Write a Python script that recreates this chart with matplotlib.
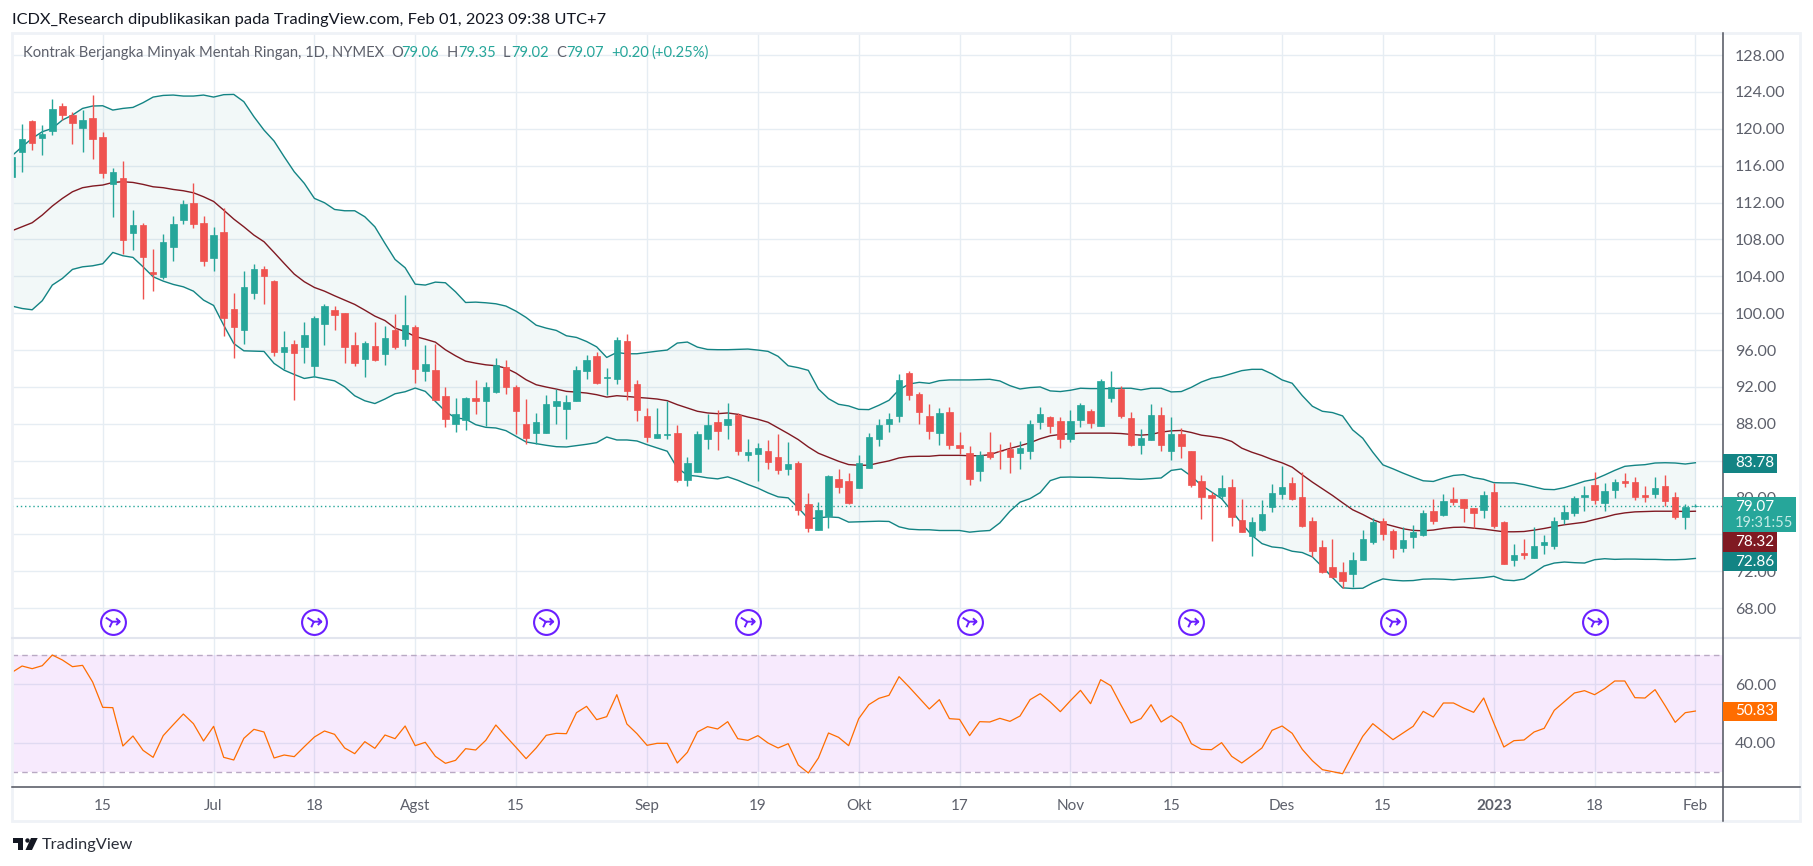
import matplotlib
matplotlib.use('Agg')
import matplotlib.pyplot as plt
from matplotlib.lines import Line2D
from matplotlib.patches import Rectangle, Polygon
from matplotlib.path import Path

W = 1813
H = 866

opens = [114.8,117.5,120.8,119.0,119.8,122.5,121.45,120.1,121.15,119.1,
114.05,114.7,108.7,109.55,104.45,103.9,107.2,110.15,111.95,109.75,
106.0,108.8,100.45,98.2,102.2,104.8,103.5,95.8,96.65,96.35,
94.3,98.85,100.35,100.0,96.55,95.05,96.45,95.6,98.2,97.2,
98.5,93.75,93.85,91.05,88.0,88.45,90.85,90.5,91.5,94.2,
92.0,88.0,87.05,87.05,89.95,89.65,90.5,93.75,95.4,93.0,
92.9,97.0,92.35,88.9,86.5,86.8,87.05,81.95,82.8,86.3,
88.25,87.9,89.0,84.65,84.75,85.1,84.35,83.05,83.7,79.35,
76.45,78.05,82.05,81.85,81.0,83.25,86.4,88.0,88.9,93.55,
91.25,88.8,87.05,89.3,85.65,84.8,82.85,84.9,85.1,85.25,
84.8,85.0,88.15,88.7,88.35,86.3,88.45,89.35,87.8,90.85,
91.8,88.6,85.75,86.2,89.0,85.1,86.95,85.0,81.85,80.25,
80.15,81.1,77.55,75.8,76.45,78.95,80.35,81.55,80.05,77.45,
74.6,72.45,71.9,71.7,73.2,75.15,77.45,76.35,74.5,75.7,
75.9,78.5,78.1,79.9,79.9,78.85,78.65,80.6,77.35,73.25,
74.0,73.45,74.85,74.75,77.65,78.3,80.05,81.35,79.4,80.8,
81.85,81.65,80.25,80.35,81.25,80.05,77.85,79.06]

highs = [117.0,120.5,121.0,120.4,123.2,122.8,121.85,122.0,123.7,119.6,
115.7,116.55,111.2,109.75,107.0,108.6,110.55,112.25,114.1,110.55,
109.35,111.45,102.2,104.55,105.3,105.1,103.6,98.05,97.1,99.05,
99.7,101.0,100.75,100.0,97.95,96.95,99.05,98.65,99.95,102.0,
98.75,96.55,96.7,92.0,90.85,90.95,92.8,92.55,95.15,94.95,
92.25,90.7,89.2,91.15,91.8,91.15,94.3,95.5,95.8,94.1,
97.45,97.75,92.8,89.75,89.75,90.5,87.9,84.35,87.25,89.1,
89.45,90.3,89.2,86.3,85.95,86.2,86.85,86.05,84.0,80.45,
79.55,82.5,83.05,82.7,84.65,87.05,88.55,89.2,93.45,93.75,
91.5,90.2,89.75,89.85,87.15,85.55,85.0,87.15,85.85,86.0,
86.1,88.45,89.85,88.8,88.7,89.45,90.3,89.65,92.9,93.75,
92.15,89.25,87.4,90.1,89.85,88.7,87.5,85.0,82.4,80.6,
82.4,82.0,79.9,77.85,79.7,81.45,83.4,82.2,82.75,77.85,
75.35,75.5,73.0,74.05,76.45,77.75,77.75,76.55,76.8,77.0,
78.6,79.9,80.35,81.2,79.9,78.85,80.7,81.55,77.45,74.95,
75.5,76.8,75.95,77.85,79.15,80.15,81.25,82.75,81.55,82.0,
82.65,82.2,81.25,82.2,82.5,80.6,79.3,79.35]

lows = [114.8,115.3,117.7,117.15,119.3,120.9,118.4,117.5,116.75,114.7,
110.45,106.4,106.9,101.55,102.45,103.7,105.7,109.7,109.25,105.15,
104.6,97.55,95.15,96.7,101.55,101.0,95.4,93.9,90.6,94.6,
93.1,96.55,98.2,94.6,94.3,93.1,94.85,94.4,96.15,96.45,
92.45,92.65,90.6,87.7,87.15,87.35,89.1,87.8,91.35,91.25,
86.95,85.85,85.85,87.05,88.0,86.4,90.5,92.9,92.35,91.15,
92.35,90.6,88.35,86.05,86.5,86.3,81.65,81.3,82.8,85.3,
85.2,86.3,84.65,84.0,81.85,83.15,82.6,82.5,78.15,76.3,
76.45,76.65,80.45,79.25,81.0,83.25,85.55,87.15,88.15,90.6,
88.0,86.4,85.65,85.3,84.7,81.35,81.75,84.15,83.15,82.65,
83.05,84.15,87.4,87.05,85.35,86.0,87.7,87.6,87.8,90.4,
88.6,85.55,84.7,86.2,85.1,84.05,84.25,81.2,77.65,75.3,
79.8,76.9,76.25,73.65,76.35,78.4,79.9,79.7,76.8,73.55,
71.8,71.25,70.15,70.3,73.2,74.95,75.35,73.4,74.05,74.5,
75.8,77.1,77.95,79.15,77.3,76.7,77.75,76.7,72.8,72.6,
73.35,73.45,73.85,74.4,77.1,78.0,78.5,79.3,78.5,79.95,
81.1,79.7,79.5,79.95,79.05,77.65,76.6,79.02]

closes = [116.9,118.85,118.5,119.4,122.1,121.5,120.65,120.95,118.9,115.2,
115.3,107.95,109.55,106.1,104.3,107.7,109.65,111.85,109.7,105.7,
108.45,99.5,98.5,102.85,104.8,104.05,95.8,96.3,95.7,97.6,
99.45,100.75,99.8,96.35,94.6,96.75,94.95,97.35,96.35,98.75,
93.9,94.5,90.6,88.55,89.1,90.85,90.5,92.0,94.4,92.0,
89.4,86.5,88.25,90.2,90.5,90.4,93.85,94.95,92.45,93.1,
97.1,91.6,89.55,86.6,86.95,86.95,81.95,83.7,86.95,87.9,
87.25,88.55,85.1,84.9,85.4,83.9,82.95,83.6,78.7,76.75,
78.6,82.3,81.2,79.45,83.7,86.6,87.9,88.55,92.8,91.15,
89.3,87.25,89.2,85.65,85.35,82.0,84.6,84.45,85.0,84.45,
85.35,87.95,89.1,87.8,86.4,88.35,90.0,88.05,92.6,91.95,
88.8,85.75,86.5,89.0,85.75,86.95,85.55,81.35,80.05,79.95,
81.0,77.85,76.25,77.3,78.2,80.55,81.2,79.9,76.9,74.2,
71.9,71.35,70.95,73.2,75.5,77.3,76.0,74.4,75.35,76.25,
78.3,77.45,79.6,79.5,78.85,78.3,80.25,76.9,72.8,73.75,
73.75,74.75,75.15,77.45,78.4,79.95,80.25,79.7,80.7,81.65,
81.55,80.05,80.05,81.0,79.6,77.85,78.95,79.07]

bb_upper = [117.08,118.05,118.96,119.68,120.04,120.95,121.49,122.21,122.47,122.5,
122.03,122.21,122.32,122.83,123.44,123.62,123.66,123.55,123.55,123.66,
123.44,123.7,123.73,122.94,121.31,119.86,118.67,116.97,115.34,114.08,
112.45,111.98,111.25,111.11,111.11,110.46,109.37,107.57,105.83,104.93,
103.15,103.05,103.37,103.3,102.32,101.16,101.2,101.13,101.02,100.77,
100.22,99.54,98.7,98.38,98.13,97.55,97.37,96.93,96.35,95.2,
95.74,95.6,95.6,95.74,95.88,96.0,96.76,96.87,96.32,96.07,
96.04,96.04,96.07,96.11,96.0,95.86,95.32,94.3,94.09,93.8,
91.78,90.73,90.12,89.94,89.57,89.54,90.01,90.55,91.7,92.32,
92.5,92.39,92.68,92.76,92.76,92.76,92.79,92.83,92.65,92.14,
91.78,91.93,92.0,91.57,91.5,91.64,91.86,91.82,91.82,91.82,
91.86,91.86,91.68,91.86,91.86,91.46,91.5,91.96,92.54,92.94,
93.12,93.44,93.77,93.91,93.91,93.41,92.76,92.4,91.06,89.91,
89.36,89.22,88.86,87.34,86.44,84.92,83.55,83.12,82.65,82.22,
81.82,81.75,82.11,82.4,82.49,82.16,81.98,81.62,81.59,81.59,
81.41,81.15,80.9,80.86,81.08,81.41,81.77,81.98,82.45,82.95,
83.39,83.5,83.57,83.75,83.78,83.75,83.64,83.78]

bb_basis = [108.94,109.37,109.81,110.64,111.62,112.45,113.17,113.61,113.79,113.9,
114.18,114.26,114.18,113.97,113.71,113.61,113.42,113.28,113.06,112.63,
112.12,111.18,110.21,109.37,108.47,107.75,106.59,105.4,104.24,103.41,
102.79,102.39,101.89,101.42,100.95,100.33,99.68,99.2,98.38,98.01,
97.47,97.18,96.86,96.03,95.38,94.8,94.58,94.4,94.3,94.04,
93.5,92.78,92.24,91.99,91.77,91.52,91.44,91.34,91.16,90.9,
91.05,90.97,90.87,90.79,90.69,90.51,90.08,89.72,89.36,89.18,
89.1,89.18,89.03,88.74,88.49,88.17,87.55,86.94,86.29,85.49,
84.81,84.38,83.94,83.58,83.51,83.51,83.76,83.98,84.3,84.45,
84.48,84.48,84.58,84.58,84.58,84.54,84.54,84.65,85.01,85.33,
85.62,85.95,86.38,86.7,86.85,86.92,86.99,86.99,86.99,86.99,
86.95,86.85,86.77,86.85,87.1,87.24,87.28,87.06,86.77,86.63,
86.45,86.09,85.36,84.92,84.56,84.13,83.77,83.3,82.47,81.68,
80.95,80.23,79.44,78.68,78.17,77.6,77.2,76.91,76.62,76.44,
76.4,76.48,76.66,76.77,76.79,76.68,76.58,76.43,76.29,76.29,
76.32,76.47,76.65,76.86,77.05,77.19,77.33,77.62,77.87,78.16,
78.34,78.45,78.49,78.52,78.52,78.52,78.49,78.52]

bb_lower = [100.77,100.51,100.37,101.35,103.05,103.77,104.75,105.03,105.14,105.36,
106.59,106.23,106.05,105.03,103.95,103.48,103.12,102.86,102.39,101.42,
100.84,98.7,96.71,95.92,95.88,95.85,94.55,93.82,93.35,92.92,
93.1,92.88,92.66,92.01,91.04,90.5,90.2,90.69,91.26,91.48,
91.88,91.52,90.43,89.35,88.63,88.52,87.91,87.62,87.55,87.26,
86.64,86.03,85.85,85.67,85.52,85.49,85.63,85.78,85.96,86.57,
86.25,86.25,86.14,85.74,85.38,85.03,83.22,82.43,82.32,82.14,
82.03,82.25,81.88,81.42,81.02,80.51,80.08,79.97,78.89,77.7,
77.81,77.91,77.84,77.34,77.37,77.41,77.44,77.41,76.83,76.58,
76.51,76.51,76.43,76.43,76.43,76.25,76.36,76.43,77.26,78.52,
79.5,79.89,80.54,81.84,82.2,82.23,82.2,82.2,82.16,82.09,
82.09,82.02,81.98,82.05,82.13,82.95,83.1,82.31,81.33,80.61,
79.88,78.55,77.18,75.91,75.01,74.65,74.54,74.18,74.04,73.57,
72.48,71.33,70.21,70.14,70.17,70.75,71.18,71.04,70.97,71.0,
71.15,71.18,71.15,71.08,71.18,71.24,71.32,71.46,71.06,70.99,
71.17,71.86,72.58,72.9,73.01,72.94,72.9,73.26,73.37,73.3,
73.33,73.33,73.3,73.3,73.26,73.26,73.3,73.4]

rsi = [63.95,66.1,65.2,66.21,69.83,68.14,65.88,66.33,60.68,52.09,
51.98,38.98,42.37,37.51,35.14,42.49,46.21,49.83,46.55,40.68,
45.65,35.14,34.24,41.58,44.63,43.73,34.92,35.93,35.37,38.76,
42.03,44.07,42.94,38.31,36.38,40.45,38.19,42.71,41.47,45.76,
39.1,40.23,35.48,33.11,34.12,38.08,37.63,40.9,46.1,42.26,
38.53,34.69,38.31,42.6,43.28,43.16,50.28,52.43,47.91,48.93,
56.38,46.44,43.16,39.21,39.89,39.89,33.22,36.84,43.73,45.54,
44.75,47.23,41.47,40.9,42.49,40.0,38.31,39.77,32.54,29.83,
34.92,43.39,41.92,39.1,48.25,52.99,55.14,56.16,62.49,58.98,
55.25,51.53,54.69,48.25,48.02,42.49,47.23,47.12,48.36,47.34,
49.15,54.69,56.72,53.9,50.62,54.35,57.85,53.33,61.47,59.44,
52.99,46.78,48.25,52.99,47.12,49.27,46.78,39.77,37.85,37.74,
40.11,35.48,33.22,35.71,38.31,44.29,45.76,43.28,37.85,34.01,
30.96,30.28,29.6,36.05,42.26,46.55,43.84,41.13,43.39,45.65,
50.73,48.81,53.56,53.56,51.86,50.4,55.25,46.78,38.64,40.79,
41.02,43.73,44.97,51.07,54.01,56.95,57.74,56.38,58.42,61.02,
61.02,55.37,55.25,58.08,52.66,47.01,50.28,50.83]

price_ticks = [128,124,120,116,112,108,104,100,96,92,88,84,80,76,72,68]
rsi_ticks = [60,40]
date_pos = [9,20,30,40,50,63,74,84,94,105,115,126,136,147,157,167]
date_labels = ['15','Jul','18','Agst','15','Sep','19','Okt','17','Nov','15','Des','15','2023','18','Feb']
rollover_pos = [10,30,53,73,95,117,137,157]
last_price = 79.07

GREEN = '#26a69a'
RED = '#ef5350'
TEAL = '#138484'
MAROON = '#801922'
ORANGE = '#ff6d00'
GRID = '#e6edf3'
TXT = '#5d606b'
FONT = 'Lato'

plt.rcParams['font.family'] = [FONT, 'DejaVu Sans']

def fx(x):
    return x / W

def fy(y):
    return 1 - y / H

def make_axes(left, top, right, bottom):
    return fig.add_axes([fx(left), fy(bottom), (right - left) / W, (bottom - top) / H])

fig = plt.figure(figsize=(W / 100, H / 100), dpi=100, facecolor='white')

# main pane
ax = make_axes(12, 33, 1723, 638)
ax.set_xlim(0, 169.74)
ax.set_ylim(64.77, 130.39)

x = list(range(len(closes)))
colors = [GREEN if c >= o else RED for o, c in zip(opens, closes)]
bottoms = [min(o, c) for o, c in zip(opens, closes)]
heights = [abs(c - o) for o, c in zip(opens, closes)]

ax.fill_between(x, bb_lower, bb_upper, color=TEAL, alpha=0.05, linewidth=0, zorder=2)
ax.plot(x, bb_upper, color=TEAL, lw=1.0, zorder=3)
ax.plot(x, bb_lower, color=TEAL, lw=1.0, zorder=3)
ax.plot(x, bb_basis, color=MAROON, lw=1.0, zorder=3)
ax.axhline(last_price, color=GREEN, lw=1, ls=(0, (1, 2)), zorder=3)
ax.vlines(x, lows, highs, colors=colors, lw=1.0, zorder=4)
ax.bar(x, heights, bottom=bottoms, width=0.64, color=colors, edgecolor=colors, linewidth=0.5, zorder=5)

# rollover markers
arrow = Path([(-0.62, 0.36), (-0.05, 0), (0.62, 0), (0.3, 0.3), (0.62, 0), (0.3, -0.3), (-0.28, -0.5), (-0.05, 0)],
             [Path.MOVETO, Path.LINETO, Path.LINETO, Path.MOVETO, Path.LINETO, Path.LINETO, Path.MOVETO, Path.LINETO])
marker_y = [0.027] * len(rollover_pos)
ax.scatter(rollover_pos, marker_y, s=320, marker='o', facecolor='white', edgecolor='#6a1fff', linewidth=1.5,
           transform=ax.get_xaxis_transform(), zorder=6, clip_on=False)
ax.scatter(rollover_pos, marker_y, s=100, marker=arrow, facecolor='none', edgecolor='#6a1fff', linewidth=1.4,
           transform=ax.get_xaxis_transform(), zorder=7, clip_on=False)

ax.set_yticks(price_ticks)
ax.set_yticklabels(['%.2f' % p for p in price_ticks])

# rsi pane
ax2 = make_axes(12, 638, 1723, 787)
ax2.set_xlim(0, 169.74)
ax2.set_ylim(25.08, 75.6)
ax2.axhspan(30, 70, color='#a81ff0', alpha=0.09, linewidth=0, zorder=2)
ax2.axhline(70, color='#b9a9c4', lw=1, ls=(0, (4, 3)), zorder=3)
ax2.axhline(30, color='#b9a9c4', lw=1, ls=(0, (4, 3)), zorder=3)
ax2.plot(x, rsi, color=ORANGE, lw=0.9, zorder=4)
ax2.set_yticks(rsi_ticks)
ax2.set_yticklabels(['%.2f' % p for p in rsi_ticks])

for a in (ax, ax2):
    for s in a.spines.values():
        s.set_visible(False)
    a.set_axisbelow(True)
    a.grid(True, color=GRID, lw=1.0, zorder=1)
    a.yaxis.tick_right()
    a.tick_params(axis='y', length=0, pad=8.5, labelsize=11.5, labelcolor=TXT)
    a.set_xticks(date_pos)
    a.tick_params(axis='x', length=0, labelbottom=False)

ax2.set_xticklabels(date_labels)
ax2.tick_params(axis='x', labelbottom=True, pad=8.5, labelsize=11, labelcolor=TXT)
for lab, name in zip(ax2.get_xticklabels(), date_labels):
    if name == '2023':
        lab.set_fontweight('bold')

# frame and separators
fig.add_artist(Rectangle((fx(12), fy(821)), 1788 / W, 788 / H, facecolor='none', edgecolor='#eff2f7', lw=2,
                         transform=fig.transFigure, zorder=2))
fig.add_artist(Line2D([fx(12), fx(1800)], [fy(638), fy(638)], color='#e2e5ee', lw=1.5, zorder=3))
fig.add_artist(Line2D([fx(12), fx(1800)], [fy(787), fy(787)], color='#50535e', lw=1.1, zorder=3))
fig.add_artist(Line2D([fx(1723), fx(1723)], [fy(33), fy(821)], color='#50535e', lw=1.1, zorder=3))

def price_box(x0, x1, y0, y1, color):
    fig.add_artist(Rectangle((fx(x0), fy(y1)), (x1 - x0) / W, (y1 - y0) / H, facecolor=color, edgecolor='none',
                             transform=fig.transFigure, zorder=5))

def box_text(x0, y, s, color='white', size=11):
    fig.text(fx(x0), fy(y), s, color=color, fontsize=size, va='center', ha='left', zorder=6)

price_box(1723, 1777, 454, 473, TEAL)
price_box(1723, 1796, 497, 532, GREEN)
price_box(1723, 1777, 532, 552, MAROON)
price_box(1723, 1777, 552, 571, TEAL)
price_box(1723, 1777, 702, 721, ORANGE)
box_text(1735, 463, '83.78')
box_text(1735, 507, '79.07')
box_text(1735, 523, '19:31:55', color='#c5ebe6', size=10.5)
box_text(1735, 542, '78.32')
box_text(1735, 562, '72.86')
box_text(1735, 711, '50.83')

# header and legend
fig.text(fx(12), fy(20), 'ICDX_Research dipublikasikan pada TradingView.com, Feb 01, 2023 09:38 UTC+7',
         color='#131722', fontsize=11.8, va='center', ha='left')
legend_parts = [(23, 'Kontrak Berjangka Minyak Mentah Ringan, 1D, NYMEX', TXT),
                (391, 'O', TXT), (401, '79.06', GREEN),
                (447, 'H', TXT), (458, '79.35', GREEN),
                (503, 'L', TXT), (511, '79.02', GREEN),
                (556, 'C', TXT), (566, '79.07', GREEN),
                (611, '+0.20', GREEN), (651, '(+0.25%)', GREEN)]
for lx, s, c in legend_parts:
    fig.text(fx(lx), fy(53), s, color=c, fontsize=10.65, va='center', ha='left')

# TradingView logo
logo = '#131722'
fig.add_artist(Polygon([(fx(13), fy(838)), (fx(23), fy(838)), (fx(23), fy(850)), (fx(17.5), fy(850)),
                        (fx(17.5), fy(842.5)), (fx(13), fy(842.5))], closed=True, facecolor=logo, edgecolor='none',
                       transform=fig.transFigure))
fig.add_artist(Polygon([(fx(31), fy(838)), (fx(37.7), fy(838)), (fx(32), fy(850)), (fx(25.5), fy(850))], closed=True,
                       facecolor=logo, edgecolor='none', transform=fig.transFigure))
fig.add_artist(Line2D([fx(26.5)], [fy(840.2)], marker='o', markersize=3.2, color=logo, markeredgewidth=0))
fig.text(fx(42), fy(845), 'TradingView', color='#2a2e39', fontsize=11.8, va='center', ha='left')

fig.savefig('out.png', dpi=100)
